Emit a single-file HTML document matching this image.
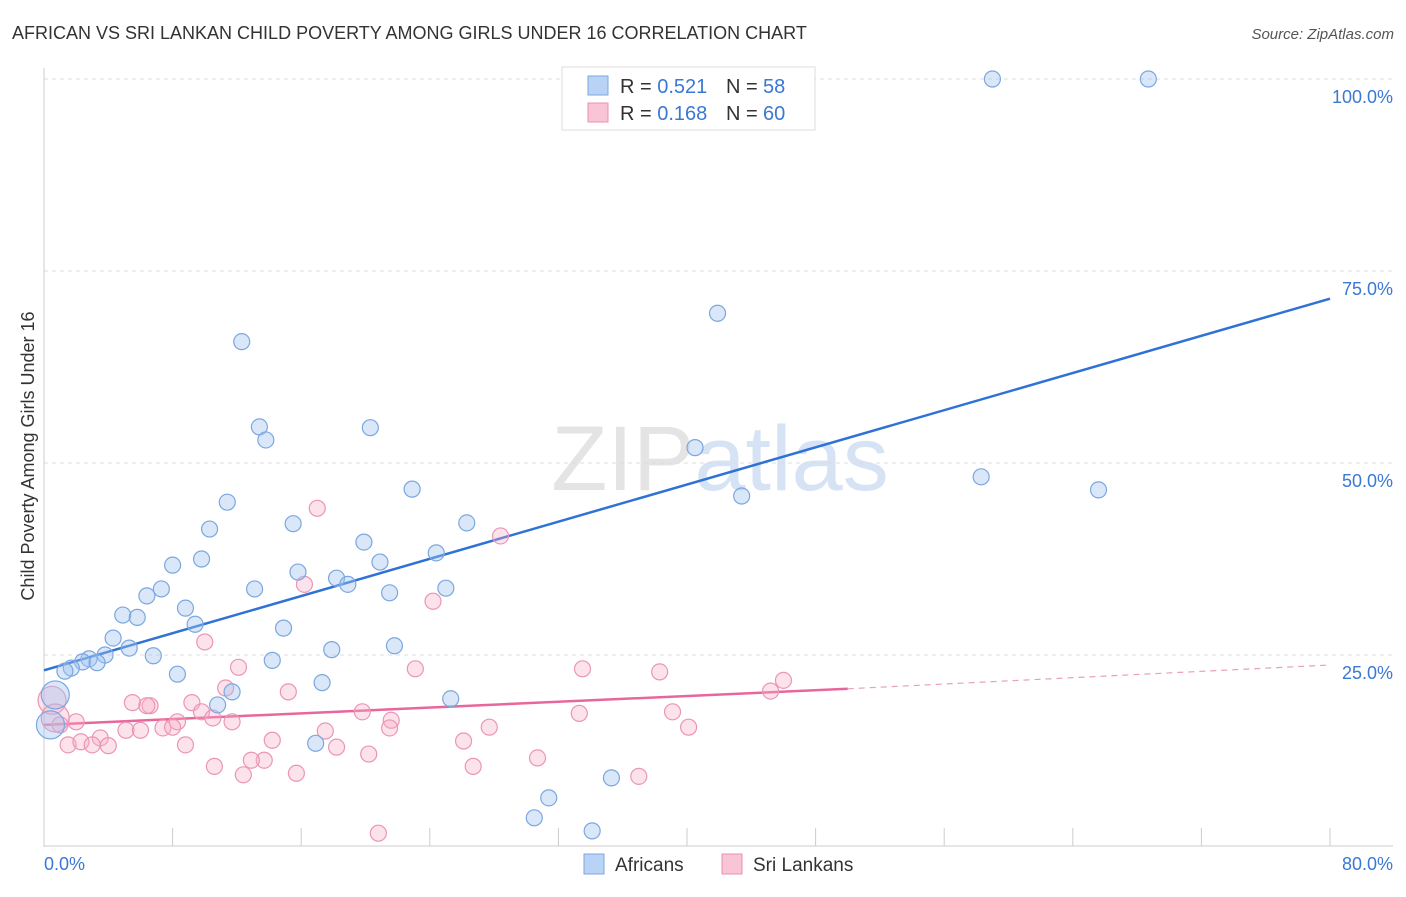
<!DOCTYPE html>
<html><head><meta charset="utf-8"><style>
body{margin:0;background:#fff;font-family:"Liberation Sans",sans-serif;}
svg text{font-family:"Liberation Sans",sans-serif;}
</style></head><body>
<svg id="chart" width="1406" height="892">
<text x="12" y="39" font-size="18" fill="#333">AFRICAN VS SRI LANKAN CHILD POVERTY AMONG GIRLS UNDER 16 CORRELATION CHART</text>
<text x="1394" y="39" font-size="15" fill="#555" text-anchor="end" font-style="italic">Source: ZipAtlas.com</text>
<text x="720" y="490" font-size="92" fill="#e4e4e4" text-anchor="middle" font-family="Liberation Serif">ZIP<tspan fill="#d5e3f4" font-family="Liberation Sans">atlas</tspan></text>
<text transform="translate(34,456) rotate(-90)" font-size="18" fill="#333" text-anchor="middle">Child Poverty Among Girls Under 16</text>
<g id="grid"></g><g id="axes"></g><g id="lines"></g><g id="pts"></g>
<g>
<rect x="562" y="67" width="253" height="63" fill="#fff" stroke="#ddd"/>
<rect x="588" y="76" width="20" height="19" fill="#b8d3f5" stroke="#7ba7e0"/>
<rect x="588" y="103" width="20" height="19" fill="#f9c5d6" stroke="#e890b0"/>
<text x="620" y="93" font-size="20" fill="#333">R = <tspan fill="#3a78d4">0.521</tspan><tspan x="726">N = </tspan><tspan fill="#3a78d4" x="763">58</tspan></text>
<text x="620" y="120" font-size="20" fill="#333">R = <tspan fill="#3a78d4">0.168</tspan><tspan x="726">N = </tspan><tspan fill="#3a78d4" x="763">60</tspan></text>
</g>
<g>
<rect x="584" y="854" width="20" height="20" fill="#b8d3f5" stroke="#7ba7e0"/>
<text x="615" y="871" font-size="19" fill="#333">Africans</text>
<rect x="722" y="854" width="20" height="20" fill="#f9c5d6" stroke="#e890b0"/>
<text x="753" y="871" font-size="19" fill="#333">Sri Lankans</text>
</g>
</svg>
<script>
const blueX=[59.0,68.7,41.9,12.3,13.4,13.8,20.3,40.5,43.4,58.3,65.6,22.9,11.4,26.3,10.3,15.5,19.9,24.4,20.9,9.8,8.0,15.8,18.2,18.9,25.0,21.5,13.1,7.3,6.4,8.8,4.9,5.8,9.4,14.9,4.3,21.8,5.3,17.9,6.8,14.2,3.8,2.8,2.4,3.3,1.7,1.3,8.3,17.3,11.7,10.8,25.3,16.9,35.3,31.4,30.5,34.1,0.7,0.4];
const blueY=[100,100,69.5,65.8,54.7,53.0,54.6,52.0,45.7,48.2,46.5,46.6,44.9,42.2,41.4,42.1,39.7,38.3,37.1,37.5,36.7,35.8,35.0,34.2,33.7,33.1,33.6,33.6,32.7,31.1,30.2,29.9,29.0,28.5,27.2,26.2,25.9,25.7,24.9,24.3,25.0,24.5,24.1,24.0,23.3,22.9,22.5,21.4,20.2,18.5,19.3,13.5,9.0,6.4,3.8,2.1,19.8,15.9];
const pinkX=[17.0,28.4,16.2,24.2,10.0,12.1,23.1,33.5,38.3,46.0,45.2,11.3,15.2,5.5,6.6,9.2,6.4,9.8,19.8,33.3,39.1,2.0,8.3,11.7,21.6,1.0,5.1,6.0,7.4,8.0,21.5,27.7,40.1,17.5,10.5,3.5,14.2,26.1,8.8,1.5,2.3,3.0,4.0,18.2,20.2,13.7,12.9,30.7,26.7,10.6,15.7,12.4,37.0,20.8,0.5,0.7];
const pinkY=[44.1,40.5,34.2,32.0,26.7,23.4,23.2,23.2,22.8,21.7,20.3,20.7,20.2,18.8,18.4,18.8,18.4,17.6,17.6,17.4,17.6,16.3,16.3,16.3,16.5,15.9,15.2,15.2,15.5,15.6,15.5,15.6,15.6,15.1,16.8,14.2,13.9,13.8,13.3,13.3,13.7,13.3,13.2,13.0,12.1,11.3,11.3,11.6,10.5,10.5,9.6,9.4,9.2,1.8,19.1,16.8];
const blueBig=[56,57], pinkBig=[54,55];
const blueLine=[23.0,71.4], pinkLine=[15.9,20.6,23.7];
const yTicks=[25,50,75,100];
const xTickLabels=["0.0%","80.0%"];
const NS="http://www.w3.org/2000/svg";
const sx=v=>44+v*16.075, sy=v=>847-v*7.68;
function mk(tag,attrs,parent){const e=document.createElementNS(NS,tag);for(const k in attrs)e.setAttribute(k,attrs[k]);document.getElementById(parent).appendChild(e);return e;}
yTicks.forEach(t=>{
  const l=mk('line',{x1:44,x2:1393,y1:sy(t),y2:sy(t),stroke:'#ddd','stroke-dasharray':'4,4'},'grid');
  
  
  const tx=mk('text',{x:1393,y:sy(t)+24,'font-size':18,fill:'#3a78d4','text-anchor':'end'},'axes');
  tx.textContent=t.toFixed(1)+'%';
  
  
});
const ax=mk('line',{x1:44,x2:44,y1:68,y2:847,stroke:'#ccc'},'axes');


const bx=mk('line',{x1:44,x2:1393,y1:846,y2:846,stroke:'#ccc'},'axes');


for(let i=0;i<=10;i++){const t=mk('line',{x1:sx(i*8),x2:sx(i*8),y1:828,y2:846,stroke:'#ccc'},'axes');
  
  }
const xl0=mk('text',{x:44,y:870,'font-size':18,fill:'#3a78d4'},'axes');xl0.textContent=xTickLabels[0];


const xl1=mk('text',{x:1393,y:870,'font-size':18,fill:'#3a78d4','text-anchor':'end'},'axes');xl1.textContent=xTickLabels[1];


pinkX.forEach((x,i)=>{const c=mk('circle',{cx:sx(x),cy:sy(pinkY[i]),r:pinkBig.includes(i)?14:8,fill:'rgba(246,172,198,0.35)',stroke:'#eb95b5','stroke-width':1.2},'pts');
  
  });
blueX.forEach((x,i)=>{const c=mk('circle',{cx:sx(x),cy:sy(blueY[i]),r:blueBig.includes(i)?14:8,fill:'rgba(160,196,240,0.4)',stroke:'#7ba7e0','stroke-width':1.2},'pts');
  
  });
const bl=mk('line',{x1:sx(0),y1:sy(blueLine[0]),x2:sx(80),y2:sy(blueLine[1]),stroke:'#2f72d6','stroke-width':2.5},'lines');


const pl=mk('line',{x1:sx(0),y1:sy(pinkLine[0]),x2:sx(50),y2:sy(pinkLine[1]),stroke:'#e8679a','stroke-width':2.5},'lines');


const pd=mk('line',{x1:sx(50),y1:sy(pinkLine[1]),x2:sx(80),y2:sy(pinkLine[2]),stroke:'#e8a0bb','stroke-width':1.2,'stroke-dasharray':'6,5'},'lines');


</script>
</body></html>
